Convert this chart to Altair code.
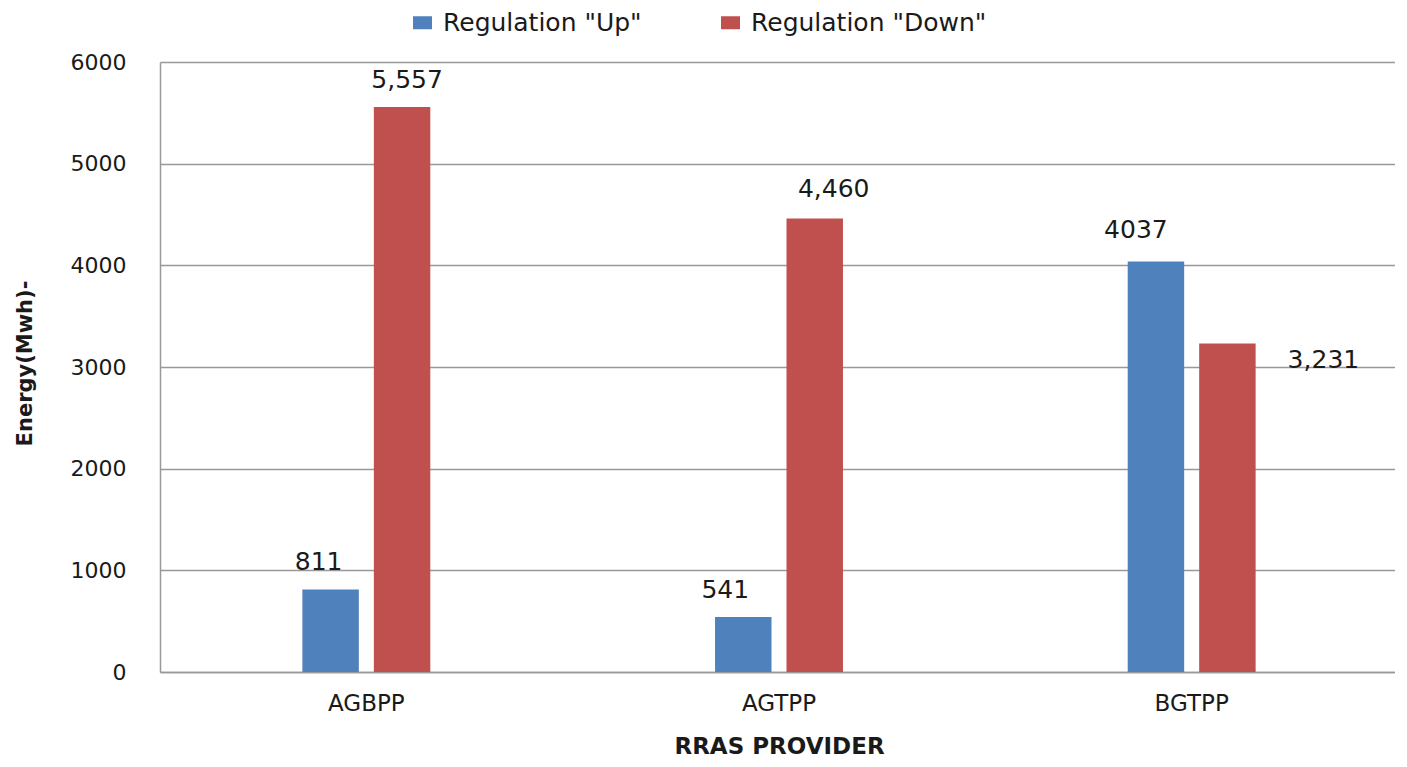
import altair as alt
import pandas as pd

providers = ["AGBPP", "AGTPP", "BGTPP"]
series = ['Regulation "Up"', 'Regulation "Down"']
up_values = [811, 541, 4037]
down_values = [5557, 4460, 3231]
up_labels = ["811", "541", "4037"]
down_labels = ["5,557", "4,460", "3,231"]
y_ticks = [0, 1000, 2000, 3000, 4000, 5000, 6000]
colors = ["#4F81BD", "#C0504D"]

rows = []
for i, p in enumerate(providers):
    rows.append({"provider": p, "series": series[0], "value": up_values[i], "label": up_labels[i]})
    rows.append({"provider": p, "series": series[1], "value": down_values[i], "label": down_labels[i]})
df = pd.DataFrame(rows)

# label offsets (styling, in px): label -> (dx, dy)
label_offsets = {
    "811": (-12, -20),
    "5,557": (5, -19),
    "541": (-18, -19),
    "4,460": (19, -22),
    "4037": (-20, -24),
    "3,231": (96, 24),
}

FONT = "DejaVu Sans"
LINE = "#999999"

base = alt.Chart(df).encode(
    x=alt.X(
        "provider:N",
        sort=providers,
        scale=alt.Scale(paddingInner=0.69, paddingOuter=0.345),
        axis=alt.Axis(
            title="RRAS PROVIDER",
            labelAngle=0,
            labelFont=FONT,
            labelFontSize=23,
            labelColor="#1a1a1a",
            labelPadding=20,
            ticks=False,
            tickSize=0,
            grid=False,
            domain=True,
            domainColor=LINE,
            domainWidth=1.5,
            titleFont=FONT,
            titleFontSize=23,
            titleFontWeight="bold",
            titleColor="#1a1a1a",
            titleX=619,
            titleY=81,
            titleAlign="center",
            titleBaseline="alphabetic",
        ),
    ),
    xOffset=alt.XOffset(
        "series:N", sort=series, scale=alt.Scale(paddingInner=0.21, paddingOuter=0)
    ),
    y=alt.Y(
        "value:Q",
        scale=alt.Scale(domain=[0, 6000], nice=False),
        axis=alt.Axis(
            values=y_ticks,
            format="d",
            title="Energy(Mwh)-",
            labelFont=FONT,
            labelFontSize=22,
            labelColor="#1a1a1a",
            labelPadding=34,
            ticks=False,
            tickSize=0,
            grid=True,
            gridColor=LINE,
            gridWidth=1.5,
            domain=True,
            domainColor=LINE,
            domainWidth=1.5,
            titleFont=FONT,
            titleFontSize=21,
            titleFontWeight="bold",
            titleColor="#1a1a1a",
            titleAngle=270,
            titleX=-129,
            titleY=301,
            titleAlign="center",
            titleBaseline="alphabetic",
        ),
    ),
)

bars = base.mark_bar().encode(
    color=alt.Color(
        "series:N",
        sort=series,
        scale=alt.Scale(domain=series, range=colors),
        legend=alt.Legend(
            title=None,
            orient="none",
            legendX=250,
            legendY=-52,
            direction="horizontal",
            labelFont=FONT,
            labelFontSize=25,
            labelColor="#1a1a1a",
            labelOffset=8,
            labelLimit=400,
            columnPadding=76,
            symbolType="M-1,-0.684L1,-0.684L1,0.684L-1,0.684Z",
            symbolSize=361,
            symbolStrokeWidth=0,
            symbolOpacity=1,
            padding=0,
        ),
    )
)

layers = [bars]
for lab, (dx, dy) in label_offsets.items():
    layers.append(
        base.mark_text(
            font=FONT,
            fontSize=25,
            color="#1a1a1a",
            align="center",
            baseline="alphabetic",
            dx=dx,
            dy=dy,
        )
        .encode(text="label:N")
        .transform_filter(alt.datum.label == lab)
    )

chart = (
    alt.layer(*layers)
    .properties(
        width=1238,
        height=610,
        autosize=alt.AutoSizeParams(type="none"),
        padding={"left": 152, "top": 54, "right": -3, "bottom": 87},
    )
    .configure(
        background="white",
        view=alt.ViewConfig(stroke=None),
    )
)

chart.save("out.html", embed_options={"renderer": "svg", "actions": False})
